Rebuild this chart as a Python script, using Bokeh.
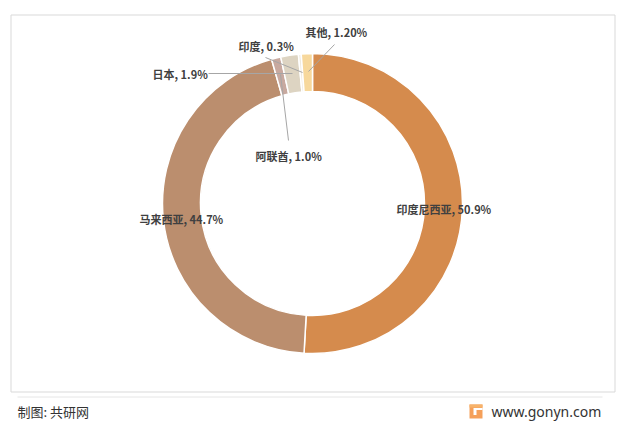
import numpy as np
from bokeh.plotting import figure
from bokeh.models import Range1d, ColumnDataSource
from bokeh.core.properties import value
from bokeh.embed import file_html
from bokeh.resources import INLINE

# ---- data ----
countries = ["印度尼西亚", "马来西亚", "阿联酋", "日本", "印度", "其他"]
shares = [50.9, 44.7, 1.0, 1.9, 0.3, 1.2]
share_labels = ["50.9%", "44.7%", "1.0%", "1.9%", "0.3%", "1.20%"]
palette = ["#D58B4D", "#BB8E6E", "#C8A99F", "#DDD4C2", "#EFEAE0", "#F7D89C"]

W, H = 617, 427

def X(ix):
    return ix

def Y(iy):
    return H - iy

p = figure(width=W, height=H, output_backend="svg", toolbar_location=None,
           x_range=Range1d(0, W), y_range=Range1d(0, H), min_border=0)
p.axis.visible = False
p.grid.visible = False
p.outline_line_color = None
p.background_fill_color = "white"

# frame
p.quad(left=X(10.5), right=X(614.5), top=Y(14.5), bottom=Y(391.5),
       fill_color=None, line_color="#D9D9D9", line_width=1)
# footer separator
p.segment(x0=[X(17)], y0=[Y(396.5)], x1=[X(602)], y1=[Y(396.5)],
          line_color="#E6E6E6", line_width=1)

# donut
frac = np.array(shares) / np.sum(shares)
cum_end = np.cumsum(frac)
cum_start = cum_end - frac
src = ColumnDataSource(dict(
    start=np.pi / 2 - 2 * np.pi * cum_end,
    end=np.pi / 2 - 2 * np.pi * cum_start,
    color=palette,
    name=countries,
))
cx, cy = X(312), Y(203)
p.annular_wedge(x=cx, y=cy, inner_radius=112, outer_radius=150,
                start_angle="start", end_angle="end", fill_color="color",
                line_color="white", line_width=1.5, source=src)

# leader lines
lead = dict(
    x0=[X(208), X(288), X(265), X(334)],
    y0=[Y(73), Y(140), Y(57), Y(44)],
    x1=[X(292), X(280), X(302), X(308)],
    y1=[Y(73), Y(74), Y(72), Y(71)],
)
p.segment(source=ColumnDataSource(lead), x0="x0", y0="y0", x1="x1", y1="y1",
          line_color="#A6A6A6", line_width=1)

# labels
label_pos = {
    "印度尼西亚": (396, 208),
    "马来西亚": (139, 218),
    "阿联酋": (255, 155),
    "日本": (152, 73),
    "印度": (238, 45),
    "其他": (305, 31),
}
lx = [X(label_pos[c][0]) for c in countries]
ly = [Y(label_pos[c][1]) for c in countries]
txt = [f"{c}, {s}" for c, s in zip(countries, share_labels)]
p.text(x=lx, y=ly, text=txt, text_font=value("Noto Sans CJK SC"),
       text_font_size="11px", text_font_style="bold", text_color="#404040",
       text_align="left", text_baseline="middle")

# footer
p.text(x=[X(17)], y=[Y(411)], text=["制图: 共研网"], text_font=value("Noto Sans CJK SC"),
       text_font_size="13px", text_color="#333333", text_align="left",
       text_baseline="middle")
p.text(x=[X(491)], y=[Y(411)], text=["www.gonyn.com"], text_font=value("Noto Sans"),
       text_font_size="14px", text_color="#333333", text_align="left",
       text_baseline="middle")
# logo
p.quad(left=[X(469)], right=[X(482)], top=[Y(404)], bottom=[Y(418)],
       fill_color="#F5A05A", line_color=None)
p.quad(left=[X(469)], right=[X(482)], top=[Y(404)], bottom=[Y(407)],
       fill_color="#F7B36A", line_color=None)
p.quad(left=[X(473)], right=[X(482)], top=[Y(407.5)], bottom=[Y(409.5)],
       fill_color="white", line_color=None)
p.quad(left=[X(473)], right=[X(476)], top=[Y(409.5)], bottom=[Y(414.5)],
       fill_color="white", line_color=None)

open("out.html", "w").write(file_html(p, INLINE))
